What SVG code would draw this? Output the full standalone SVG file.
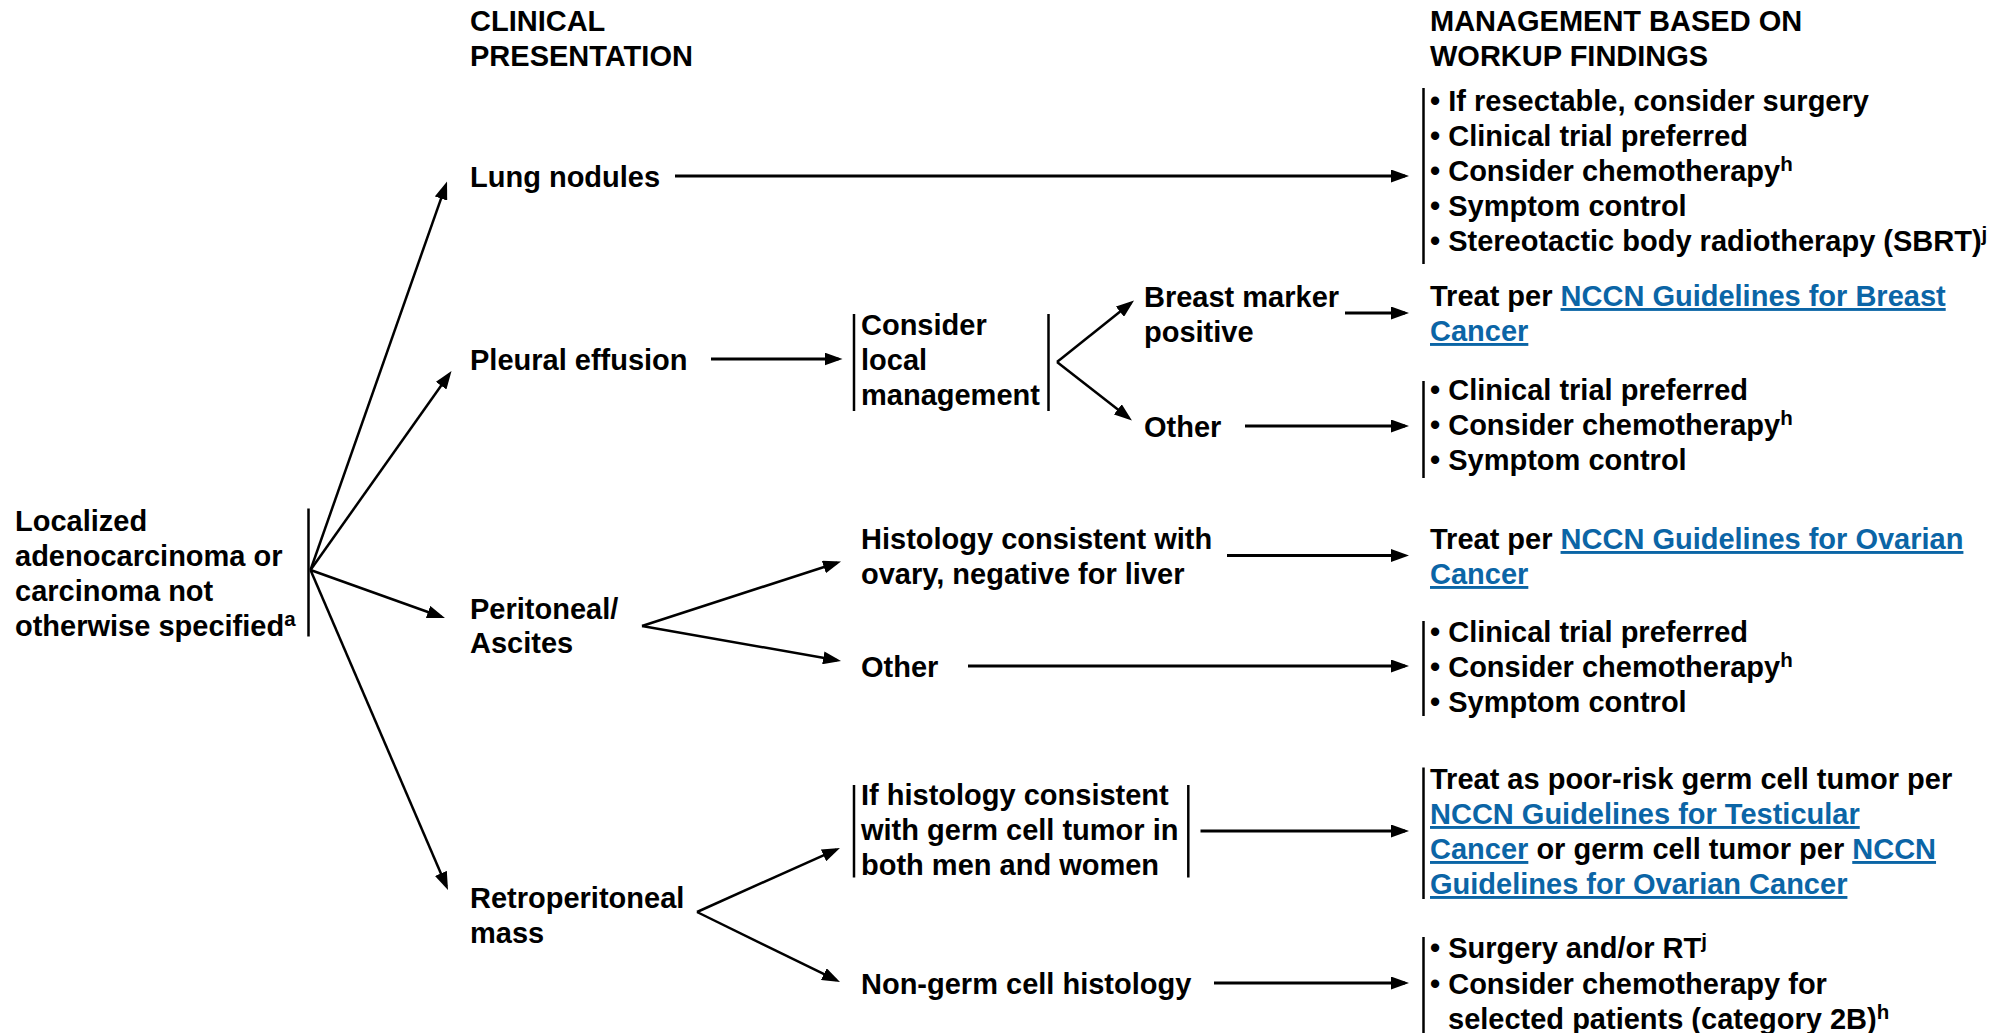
<svg xmlns="http://www.w3.org/2000/svg" width="2013" height="1033" viewBox="0 0 2013 1033">
<style>
text{font-family:"Liberation Sans",Arial,sans-serif;font-weight:bold;font-size:29px;fill:#000}
.lk{fill:#0b65a6;text-decoration:underline}
.sup{font-size:20.5px}
.bar{stroke:#000;stroke-width:2.5;fill:none}
.h{stroke:#000;stroke-width:3;fill:none;marker-end:url(#ah)}
.d{stroke:#000;stroke-width:2.5;fill:none;marker-end:url(#ah)}
</style>
<defs>
<marker id="ah" markerUnits="userSpaceOnUse" markerWidth="18" markerHeight="13" viewBox="0 0 18 13" refX="14" refY="6.5" orient="auto">
<path d="M0,0 L18,6.5 L0,13 z" fill="#000"/>
</marker>
</defs>
<rect width="2013" height="1033" fill="#fff"/>

<g id="headers">
<text x="470" y="31"><tspan x="470">CLINICAL</tspan><tspan x="470" y="66">PRESENTATION</tspan></text>
<text x="1430" y="31"><tspan x="1430">MANAGEMENT BASED ON</tspan><tspan x="1430" y="66">WORKUP FINDINGS</tspan></text>
</g>

<g id="n-localized">
<line class="bar" x1="308.5" y1="508.5" x2="308.5" y2="636.5"/>
<text x="15" y="531"><tspan x="15">Localized</tspan><tspan x="15" y="566">adenocarcinoma or</tspan><tspan x="15" y="601">carcinoma not</tspan><tspan x="15" y="636">otherwise specified</tspan><tspan class="sup" dy="-10.5">a</tspan></text>
</g>

<g id="n-lung"><text x="470" y="186.5">Lung nodules</text></g>
<g id="n-pleural"><text x="470" y="370">Pleural effusion</text></g>
<g id="n-peritoneal"><text x="470" y="619"><tspan x="470">Peritoneal/</tspan><tspan x="470" y="653">Ascites</tspan></text></g>
<g id="n-retro"><text x="470" y="908"><tspan x="470">Retroperitoneal</tspan><tspan x="470" y="943">mass</tspan></text></g>

<g id="n-consider">
<line class="bar" x1="854" y1="314" x2="854" y2="411"/>
<line class="bar" x1="1048.5" y1="314" x2="1048.5" y2="411"/>
<text x="861" y="335"><tspan x="861">Consider</tspan><tspan x="861" y="370">local</tspan><tspan x="861" y="405">management</tspan></text>
</g>

<g id="n-breast"><text x="1144" y="307"><tspan x="1144">Breast marker</tspan><tspan x="1144" y="342">positive</tspan></text></g>
<g id="n-other1"><text x="1144" y="436.5">Other</text></g>

<g id="n-histology"><text x="861" y="549"><tspan x="861">Histology consistent with</tspan><tspan x="861" y="584">ovary, negative for liver</tspan></text></g>
<g id="n-other2"><text x="861" y="677">Other</text></g>

<g id="n-germ">
<line class="bar" x1="854" y1="785" x2="854" y2="877.5"/>
<line class="bar" x1="1188.3" y1="785" x2="1188.3" y2="877.5"/>
<text x="861" y="805"><tspan x="861">If histology consistent</tspan><tspan x="861" y="840">with germ cell tumor in</tspan><tspan x="861" y="875">both men and women</tspan></text>
</g>
<g id="n-nongerm"><text x="861" y="994">Non-germ cell histology</text></g>

<g id="r-lung">
<line class="bar" x1="1423.5" y1="88" x2="1423.5" y2="264"/>
<text x="1430" y="111"><tspan x="1430">• If resectable, consider surgery</tspan><tspan x="1430" y="146">• Clinical trial preferred</tspan><tspan x="1430" y="181">• Consider chemotherapy</tspan><tspan class="sup" dy="-10.5">h</tspan><tspan x="1430" y="216">• Symptom control</tspan><tspan x="1430" y="251">• Stereotactic body radiotherapy (SBRT)</tspan><tspan class="sup" dy="-10.5">j</tspan></text>
</g>

<g id="r-breast">
<text x="1430" y="306"><tspan x="1430">Treat per </tspan><tspan class="lk">NCCN Guidelines for Breast</tspan><tspan class="lk" x="1430" y="341">Cancer</tspan></text>
</g>

<g id="r-other1">
<line class="bar" x1="1423.5" y1="381" x2="1423.5" y2="478"/>
<text x="1430" y="400"><tspan x="1430">• Clinical trial preferred</tspan><tspan x="1430" y="435">• Consider chemotherapy</tspan><tspan class="sup" dy="-10.5">h</tspan><tspan x="1430" y="470">• Symptom control</tspan></text>
</g>

<g id="r-ovarian">
<text x="1430" y="549"><tspan x="1430">Treat per </tspan><tspan class="lk">NCCN Guidelines for Ovarian</tspan><tspan class="lk" x="1430" y="584">Cancer</tspan></text>
</g>

<g id="r-other2">
<line class="bar" x1="1423.5" y1="621" x2="1423.5" y2="716"/>
<text x="1430" y="642"><tspan x="1430">• Clinical trial preferred</tspan><tspan x="1430" y="677">• Consider chemotherapy</tspan><tspan class="sup" dy="-10.5">h</tspan><tspan x="1430" y="712">• Symptom control</tspan></text>
</g>

<g id="r-germ">
<line class="bar" x1="1423.5" y1="767.5" x2="1423.5" y2="899"/>
<text x="1430" y="789"><tspan x="1430">Treat as poor-risk germ cell tumor per</tspan><tspan class="lk" x="1430" y="824">NCCN Guidelines for Testicular</tspan><tspan class="lk" x="1430" y="859">Cancer</tspan><tspan> or germ cell tumor per </tspan><tspan class="lk">NCCN</tspan><tspan class="lk" x="1430" y="894">Guidelines for Ovarian Cancer</tspan></text>
</g>

<g id="r-nongerm">
<line class="bar" x1="1423.5" y1="937" x2="1423.5" y2="1033"/>
<text x="1430" y="958"><tspan x="1430">• Surgery and/or RT</tspan><tspan class="sup" dy="-10.5">j</tspan><tspan x="1430" y="994">• Consider chemotherapy for</tspan><tspan x="1448" y="1029">selected patients (category 2B)</tspan><tspan class="sup" dy="-10.5">h</tspan></text>
</g>

<g id="connectors">
<line class="d" x1="310.5" y1="570" x2="445.7" y2="185.3"/>
<line class="d" x1="310.5" y1="570" x2="449.2" y2="374.3"/>
<line class="d" x1="310.5" y1="570" x2="441.2" y2="616.7"/>
<line class="d" x1="310.5" y1="570" x2="446.4" y2="886.3"/>
<line class="h" x1="675" y1="176" x2="1405" y2="176"/>
<line class="h" x1="711" y1="359" x2="838.5" y2="359"/>
<line class="d" x1="1057" y1="362" x2="1130.9" y2="303"/>
<line class="d" x1="1057" y1="362" x2="1128.8" y2="418"/>
<line class="h" x1="1345" y1="313" x2="1405" y2="313"/>
<line class="h" x1="1245" y1="426" x2="1405" y2="426"/>
<line class="d" x1="642" y1="626" x2="837.2" y2="562.7"/>
<line class="d" x1="642" y1="626" x2="837.1" y2="660.3"/>
<line class="h" x1="1227" y1="555.5" x2="1405" y2="555.5"/>
<line class="h" x1="968" y1="666" x2="1405" y2="666"/>
<line class="d" x1="697" y1="912" x2="836.3" y2="849.6"/>
<line class="d" x1="697" y1="912" x2="836.4" y2="980.2"/>
<line class="h" x1="1200.5" y1="831" x2="1405" y2="831"/>
<line class="h" x1="1214" y1="983" x2="1405" y2="983"/>
</g>
</svg>
